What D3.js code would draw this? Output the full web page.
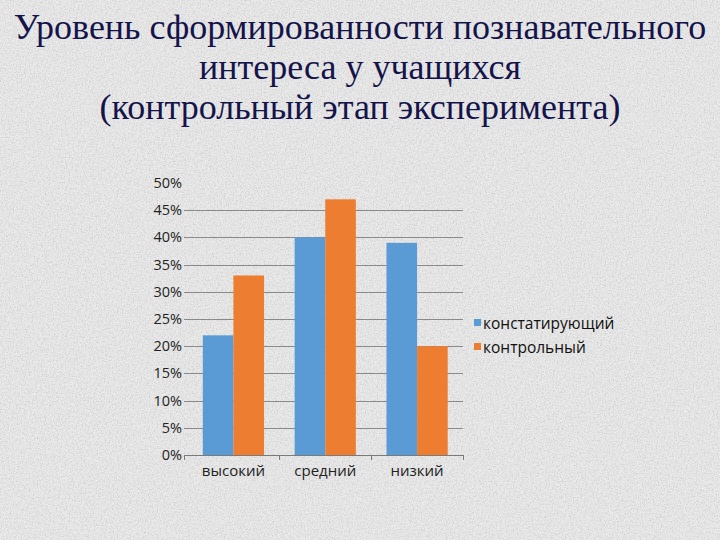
<!DOCTYPE html>
<html><head><meta charset="utf-8">
<script src="https://cdn.jsdelivr.net/npm/d3@7"></script>
<style>html,body{margin:0;padding:0;background:#e5e5e5;}svg{display:block;}</style>
</head><body>
<script>
const titleLines = ["Уровень сформированности познавательного", "интереса у учащихся", "(контрольный этап эксперимента)"];
const categories = ["высокий", "средний", "низкий"];
const seriesNames = ["констатирующий", "контрольный"];
const seriesColors = ["#5b9bd5", "#ed7d31"];
const valuesConst = [22, 40, 39];
const valuesControl = [33, 47, 20];
const yTicks = [0, 5, 10, 15, 20, 25, 30, 35, 40, 45, 50];

const W = 720, H = 540;
const svg = d3.select("body").append("svg").attr("width", W).attr("height", H);

// textured background
const defs = svg.append("defs");
const f = defs.append("filter").attr("id", "tex").attr("x", 0).attr("y", 0).attr("width", "100%").attr("height", "100%");
f.append("feTurbulence").attr("type", "fractalNoise").attr("baseFrequency", 0.75).attr("numOctaves", 3).attr("seed", 4).attr("result", "n");
f.append("feColorMatrix").attr("in", "n").attr("type", "matrix")
  .attr("values", "0 0 0 0 0.5  0 0 0 0 0.5  0 0 0 0 0.5  0 0 0 -2.4 1.45").attr("result", "c");
f.append("feComposite").attr("in", "c").attr("in2", "SourceGraphic").attr("operator", "over");
svg.append("rect").attr("width", W).attr("height", H).attr("fill", "#ebebeb");
svg.append("rect").attr("width", W).attr("height", H).attr("fill", "#ebebeb").attr("filter", "url(#tex)").attr("opacity", 0.6);

// title
svg.append("g").selectAll("text").data(titleLines).join("text")
  .attr("x", W / 2).attr("y", (d, i) => 39 + i * 40)
  .attr("text-anchor", "middle")
  .attr("font-family", "'Liberation Serif', 'Times New Roman', serif")
  .attr("font-size", 36).attr("fill", "#14144a")
  .text(d => d);

// chart
const plot = {left: 184, bandLeft: 187.5, right: 463, top: 183, bottom: 455};
const y = d3.scaleLinear().domain([0, 50]).range([plot.bottom, plot.top]);
const x0 = d3.scaleBand().domain(categories).range([plot.bandLeft, plot.right]).paddingInner(0).paddingOuter(0);
const x1 = d3.scaleBand().domain(seriesNames).range([0, x0.bandwidth()]).paddingInner(0).paddingOuter(0.5);

const font = "'Open Sans', Lato, sans-serif";

// gridlines
svg.append("g").selectAll("line").data(yTicks.filter(t => t > 0 && t < 50)).join("line")
  .attr("x1", plot.left).attr("x2", plot.right)
  .attr("y1", d => Math.round(y(d)) + 0.5).attr("y2", d => Math.round(y(d)) + 0.5)
  .attr("stroke", "#8a8a8a").attr("stroke-width", 1);

// y labels
svg.append("g").selectAll("text").data(yTicks).join("text")
  .attr("x", 182).attr("y", d => y(d) + 5)
  .attr("text-anchor", "end").attr("font-family", font).attr("font-size", 14.5).attr("fill", "#222")
  .text(d => d + "%");

// bars
const seriesVals = [valuesConst, valuesControl];
const gBars = svg.append("g");
seriesNames.forEach((s, si) => {
  gBars.append("g").selectAll("rect").data(categories).join("rect")
    .attr("x", c => x0(c) + x1(s))
    .attr("width", x1.bandwidth())
    .attr("y", (c, ci) => y(seriesVals[si][ci]))
    .attr("height", (c, ci) => plot.bottom - y(seriesVals[si][ci]))
    .attr("fill", seriesColors[si]);
});

// x axis
const xAxis = d3.axisBottom(x0).tickSize(0).tickFormat(d => d);
const gx = svg.append("g").attr("transform", `translate(0,${plot.bottom + 0.5})`).call(xAxis);
gx.select(".domain").remove();
svg.append("line").attr("x1", plot.left).attr("x2", plot.right)
  .attr("y1", plot.bottom + 0.5).attr("y2", plot.bottom + 0.5).attr("stroke", "#7a7a7a");
gx.selectAll("text").attr("font-family", font).attr("font-size", 15).attr("fill", "#222").attr("dy", "1.15em");
// boundary ticks
const bounds = [plot.left, ...categories.slice(1).map(c => x0(c)), plot.right];
svg.append("g").selectAll("line").data(bounds).join("line")
  .attr("x1", d => Math.round(d) + 0.5).attr("x2", d => Math.round(d) + 0.5)
  .attr("y1", plot.bottom).attr("y2", plot.bottom + 5)
  .attr("stroke", "#7a7a7a");

// legend
const lg = svg.append("g").attr("transform", "translate(474,316)");
seriesNames.forEach((s, i) => {
  const g = lg.append("g").attr("transform", `translate(0,${i * 24})`);
  g.append("rect").attr("x", 0).attr("y", 3).attr("width", 7).attr("height", 7).attr("fill", seriesColors[i]);
  g.append("text").attr("x", 9).attr("y", 12.5).attr("font-family", font).attr("font-size", 15.5).attr("fill", "#111").text(s);
});
</script>
</body></html>
